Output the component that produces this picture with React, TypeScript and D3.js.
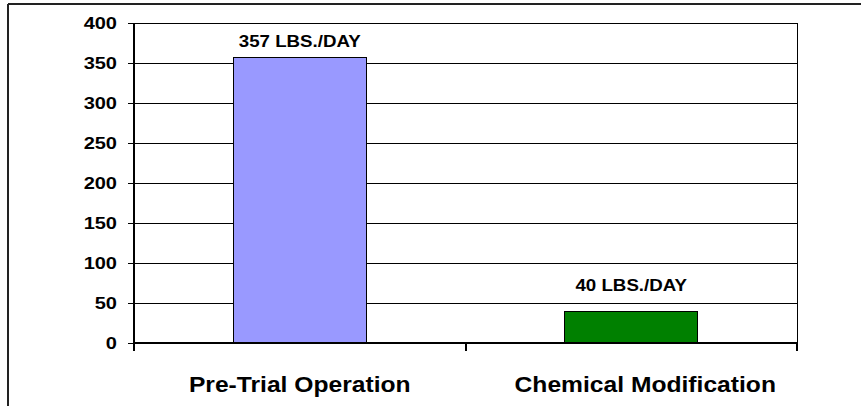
import React from "react";
import * as d3 from "d3";

const categories = ["Pre-Trial Operation", "Chemical Modification"];
const values = [357, 40];
const valueLabels = ["357 LBS./DAY", "40 LBS./DAY"];
const barColors = ["#9999FF", "#008000"];
const yTicks = [0, 50, 100, 150, 200, 250, 300, 350, 400];

const W = 861;
const H = 406;
const margin = {top: 23, left: 134, right: 64, bottom: 63};
const font = "'Liberation Sans', Arial, sans-serif";

export default function App() {
    const innerW = W - margin.left - margin.right;
    const innerH = H - margin.top - margin.bottom;

    const x = d3.scaleBand<string>()
        .domain(categories)
        .range([0, innerW])
        .paddingInner(0)
        .paddingOuter(0);

    const y = d3.scaleLinear().domain([0, 400]).range([innerH, 0]);

    const barW = x.bandwidth() * 0.4;
    // label gap above bar, as placed in the original
    const labelGap = [10, 20];
    const catShift = [0, 14];

    return (
        <svg width={W} height={H} style={{position: "absolute", left: 0, top: 0, background: "#fff"}}>
            {/* outer frame */}
            <g shapeRendering="crispEdges">
                <line x1={8} x2={W} y1={4} y2={4} stroke="#222" strokeWidth={2}/>
                <line x1={8} x2={8} y1={4} y2={H} stroke="#222" strokeWidth={2}/>
            </g>

            <g transform={`translate(${margin.left},${margin.top})`}>
                <g shapeRendering="crispEdges">
                    {/* gridlines */}
                    {yTicks.map((t) => (
                        <line key={t} x1={0} x2={innerW} y1={y(t)} y2={y(t)} stroke="#000" strokeWidth={1}/>
                    ))}
                    {/* right edge of plot */}
                    <line x1={innerW} x2={innerW} y1={0} y2={innerH} stroke="#000"/>

                    {/* bars */}
                    {categories.map((c, i) => (
                        <rect key={c}
                              x={(x(c) as number) + (x.bandwidth() - barW) / 2}
                              y={y(values[i])}
                              width={barW}
                              height={innerH - y(values[i])}
                              fill={barColors[i]}
                              stroke="#000"
                              strokeWidth={1}/>
                    ))}

                    {/* y axis */}
                    <line x1={0} x2={0} y1={0} y2={innerH + 8} stroke="#000" strokeWidth={2}/>
                    {yTicks.map((t) => (
                        <line key={t} x1={-6} x2={0} y1={y(t)} y2={y(t)} stroke="#000"/>
                    ))}

                    {/* x axis */}
                    <line x1={0} x2={innerW} y1={innerH} y2={innerH} stroke="#000" strokeWidth={2}/>
                    {categories.map((c) => (
                        <line key={c} x1={(x(c) as number) + x.bandwidth()} x2={(x(c) as number) + x.bandwidth()}
                              y1={innerH} y2={innerH + 8} stroke="#000" strokeWidth={2}/>
                    ))}
                </g>

                {/* value labels */}
                {categories.map((c, i) => (
                    <text key={c}
                          transform={`translate(${(x(c) as number) + x.bandwidth() / 2},${y(values[i]) - labelGap[i]}) scale(1.17,1)`}
                          textAnchor="middle"
                          fontFamily={font}
                          fontWeight="bold"
                          fontSize={16}
                          fill="#000">{valueLabels[i]}</text>
                ))}

                {/* tick labels */}
                {yTicks.map((t) => (
                    <text key={t}
                          transform={`translate(-17,${y(t) + 6}) scale(1.25,1)`}
                          textAnchor="end"
                          fontFamily={font}
                          fontWeight="bold"
                          fontSize={16}
                          fill="#000">{t}</text>
                ))}

                {/* category labels */}
                {categories.map((c, i) => (
                    <text key={c}
                          transform={`translate(${(x(c) as number) + x.bandwidth() / 2 + catShift[i]},${innerH + 49}) scale(1.12,1)`}
                          textAnchor="middle"
                          fontFamily={font}
                          fontWeight="bold"
                          fontSize={22}
                          fill="#000">{c}</text>
                ))}
            </g>
        </svg>
    );
}
